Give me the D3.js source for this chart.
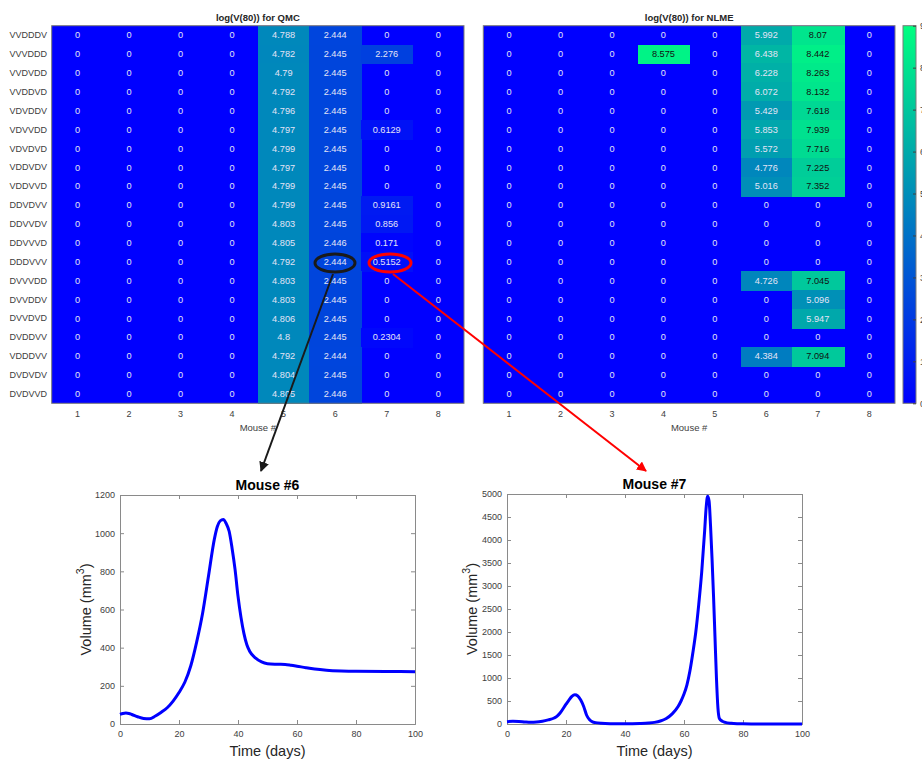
<!DOCTYPE html>
<html>
<head>
<meta charset="utf-8">
<script src="https://d3js.org/d3.v7.min.js"></script>
<style>
body { margin: 0; background: #fff; }
svg { font-family: "Liberation Sans", Arial, sans-serif; }
</style>
</head>
<body>
<svg width="922" height="759"></svg>
<script>
var rowLabels = ["VVDDDV", "VVVDDD", "VVDVDD", "VVDDVD", "VDVDDV", "VDVVDD", "VDVDVD", "VDDVDV", "VDDVVD", "DDVDVV",
  "DDVVDV", "DDVVVD", "DDDVVV", "DVVVDD", "DVVDDV", "DVVDVD", "DVDDVV", "VDDDVV", "DVDVDV", "DVDVVD"];
var mice = [1, 2, 3, 4, 5, 6, 7, 8];

// log(V(80)) for QMC, one array per mouse column
var qmc5 = [4.788, 4.782, 4.79, 4.792, 4.796, 4.797, 4.799, 4.797, 4.799, 4.799, 4.803, 4.805, 4.792, 4.803, 4.803, 4.806, 4.8, 4.792, 4.804, 4.805];
var qmc6 = [2.444, 2.445, 2.445, 2.445, 2.445, 2.445, 2.445, 2.445, 2.445, 2.445, 2.445, 2.446, 2.444, 2.445, 2.445, 2.445, 2.445, 2.444, 2.445, 2.446];
var qmc7 = [0, 2.276, 0, 0, 0, 0.6129, 0, 0, 0, 0.9161, 0.856, 0.171, 0.5152, 0, 0, 0, 0.2304, 0, 0, 0];

// log(V(80)) for NLME
var nlme4 = [0, 8.575, 0, 0, 0, 0, 0, 0, 0, 0, 0, 0, 0, 0, 0, 0, 0, 0, 0, 0];
var nlme6 = [5.992, 6.438, 6.228, 6.072, 5.429, 5.853, 5.572, 4.776, 5.016, 0, 0, 0, 0, 4.726, 0, 0, 0, 4.384, 0, 0];
var nlme7 = [8.07, 8.442, 8.263, 8.132, 7.618, 7.939, 7.716, 7.225, 7.352, 0, 0, 0, 0, 7.045, 5.096, 5.947, 0, 7.094, 0, 0];

var colorTicks = [0, 1, 2, 3, 4, 5, 6, 7, 8, 9];

// simulated volume curves
var mouse6T = [0, 1, 2, 3, 4, 6, 8, 10, 12, 14, 16, 18, 20, 22, 24, 26, 28, 30, 32, 33, 34, 35, 36, 37, 38, 39, 40, 41, 42, 43, 44, 46, 48, 50, 53, 56, 58, 60, 63, 66, 70, 75, 80, 90, 100];
var mouse6V = [50, 55, 57, 55, 50, 38, 29, 27, 42, 62, 85, 120, 165, 220, 305, 430, 580, 775, 970, 1035, 1065, 1072, 1050, 1010, 920, 810, 670, 560, 475, 415, 380, 345, 325, 316, 313, 312, 308, 303, 295, 288, 282, 278, 276, 275, 274];
var mouse7T = [0, 2, 4, 6, 8, 10, 12, 14, 16, 17, 18, 20, 21, 22, 23, 24, 25, 26, 27, 28, 29, 30, 32, 35, 40, 45, 48, 50, 52, 54, 56, 58, 59, 60, 61, 62, 63, 64, 65, 66, 67, 67.5, 68, 68.5, 69, 69.5, 70, 70.5, 71, 71.5, 72, 73, 74, 76, 78, 80, 85, 90, 100];
var mouse7V = [50, 58, 55, 45, 38, 42, 60, 90, 130, 170, 240, 430, 520, 600, 634, 610, 520, 380, 190, 90, 45, 30, 15, 7, 4, 10, 20, 35, 65, 120, 220, 380, 500, 650, 850, 1150, 1550, 2000, 2600, 3300, 4200, 4700, 4950, 4850, 4300, 3600, 2800, 1900, 1000, 350, 120, 60, 35, 15, 6, 3, 1, 0.5, 0.5];

var svg = d3.select("svg");
var color = d3.scaleLinear().domain([0, 9]).range(["#0000ff", "#00ff80"]);
var fmt = d3.format(".4~g");

var hmTop = 25.7, hmBottom = 403.3;
var yRow = d3.scaleBand().domain(rowLabels).range([hmTop, hmBottom]);

function heatmap(x0, x1, title, cols, showRows) {
  var xCol = d3.scaleBand().domain(mice).range([x0, x1]);
  var g = svg.append("g");
  var cells = [];
  rowLabels.forEach(function (r, i) {
    mice.forEach(function (m) {
      var v = cols[m] ? cols[m][i] : 0;
      cells.push({ row: r, col: m, value: v });
    });
  });
  g.append("rect").attr("x", x0).attr("y", hmTop).attr("width", x1 - x0).attr("height", hmBottom - hmTop)
    .attr("fill", color(0));
  g.selectAll("rect.cell").data(cells.filter(function (d) { return d.value > 0; })).enter().append("rect")
    .attr("class", "cell")
    .attr("x", function (d) { return xCol(d.col); })
    .attr("y", function (d) { return yRow(d.row); })
    .attr("width", xCol.bandwidth() + 1)
    .attr("height", yRow.bandwidth() + 1)
    .attr("shape-rendering", "crispEdges")
    .attr("fill", function (d) { return color(d.value); });
  g.selectAll("text.val").data(cells).enter().append("text")
    .attr("class", "val")
    .attr("x", function (d) { return xCol(d.col) + xCol.bandwidth() / 2; })
    .attr("y", function (d) { return yRow(d.row) + yRow.bandwidth() / 2; })
    .attr("dy", "0.35em")
    .attr("text-anchor", "middle")
    .attr("font-size", 9.2)
    .attr("fill", function (d) { return d.value > 6.7 ? "#111" : "#e4e4f6"; })
    .text(function (d) { return fmt(d.value); });
  g.append("rect").attr("x", x0).attr("y", hmTop).attr("width", x1 - x0).attr("height", hmBottom - hmTop)
    .attr("fill", "none").attr("stroke", "#7a7a7a").attr("stroke-width", 1);
  g.append("text").attr("x", (x0 + x1) / 2).attr("y", 20.5).attr("text-anchor", "middle")
    .attr("font-size", 9.5).attr("font-weight", "bold").attr("fill", "#262626").text(title);
  g.selectAll("text.xt").data(mice).enter().append("text")
    .attr("class", "xt")
    .attr("x", function (d) { return xCol(d) + xCol.bandwidth() / 2; })
    .attr("y", 416.5).attr("text-anchor", "middle").attr("font-size", 9).attr("fill", "#404040")
    .text(function (d) { return d; });
  g.append("text").attr("x", (x0 + x1) / 2).attr("y", 430.5).attr("text-anchor", "middle")
    .attr("font-size", 9.5).attr("fill", "#404040").text("Mouse #");
  if (showRows) {
    g.selectAll("text.rl").data(rowLabels).enter().append("text")
      .attr("class", "rl")
      .attr("x", 47).attr("y", function (d) { return yRow(d) + yRow.bandwidth() / 2; })
      .attr("dy", "0.35em").attr("text-anchor", "end").attr("font-size", 9).attr("fill", "#404040")
      .text(function (d) { return d; });
  }
}

heatmap(51.7, 464, "log(V(80)) for QMC", { 5: qmc5, 6: qmc6, 7: qmc7 }, true);
heatmap(483.3, 895, "log(V(80)) for NLME", { 4: nlme4, 6: nlme6, 7: nlme7 }, false);

// colorbar
var defs = svg.append("defs");
var grad = defs.append("linearGradient").attr("id", "winter").attr("x1", 0).attr("y1", 1).attr("x2", 0).attr("y2", 0);
grad.append("stop").attr("offset", "0%").attr("stop-color", color(0));
grad.append("stop").attr("offset", "100%").attr("stop-color", color(9));
var cbY = d3.scaleLinear().domain([0, 9]).range([hmBottom, hmTop]);
svg.append("rect").attr("x", 903).attr("y", hmTop).attr("width", 13).attr("height", hmBottom - hmTop)
  .attr("fill", "url(#winter)").attr("stroke", "#7a7a7a");
var cbAxis = svg.append("g").attr("transform", "translate(916,0)")
  .call(d3.axisRight(cbY).tickValues(colorTicks).tickSize(-3).tickPadding(4).tickFormat(d3.format("d")));
cbAxis.select(".domain").remove();
cbAxis.selectAll("line").attr("stroke", "#404040");
cbAxis.selectAll("text").attr("font-size", 9).attr("fill", "#404040");

// line plots
function linePlot(x0, x1, y0, y1, title, tArr, vArr, yMax, yStep, ylabX) {
  var x = d3.scaleLinear().domain([0, 100]).range([x0, x1]);
  var y = d3.scaleLinear().domain([0, yMax]).range([y1, y0]);
  var g = svg.append("g");
  var yt = d3.range(0, yMax + 1, yStep);
  var xt = d3.range(0, 101, 20);
  var ax;
  ax = g.append("g").attr("transform", "translate(0," + y1 + ")")
    .call(d3.axisBottom(x).tickValues(xt).tickSize(-4).tickPadding(7).tickFormat(d3.format("d")));
  ax.selectAll("text").attr("font-size", 9);
  g.append("g").attr("transform", "translate(0," + y0 + ")")
    .call(d3.axisTop(x).tickValues(xt).tickSize(-4).tickFormat(""));
  ax = g.append("g").attr("transform", "translate(" + x0 + ",0)")
    .call(d3.axisLeft(y).tickValues(yt).tickSize(-4).tickPadding(5).tickFormat(d3.format("d")));
  ax.selectAll("text").attr("font-size", 9);
  g.append("g").attr("transform", "translate(" + x1 + ",0)")
    .call(d3.axisRight(y).tickValues(yt).tickSize(-4).tickFormat(""));
  g.selectAll(".domain").attr("stroke", "#8a8a8a");
  g.selectAll(".tick line").attr("stroke", "#8a8a8a");
  g.selectAll(".tick text").attr("fill", "#404040").attr("font-family", "Liberation Sans, Arial, sans-serif");

  var pts = tArr.map(function (t, i) { return [t, vArr[i]]; });
  var line = d3.line().x(function (d) { return x(d[0]); }).y(function (d) { return y(d[1]); })
    .curve(d3.curveMonotoneX);
  g.append("path").datum(pts).attr("d", line).attr("fill", "none")
    .attr("stroke", "#0000ff").attr("stroke-width", 3).attr("stroke-linejoin", "round");

  g.append("text").attr("x", (x0 + x1) / 2).attr("y", y0 - 5).attr("text-anchor", "middle")
    .attr("font-size", 14).attr("font-weight", "bold").attr("fill", "#000").text(title);
  g.append("text").attr("x", (x0 + x1) / 2).attr("y", 756).attr("text-anchor", "middle")
    .attr("font-size", 14.5).attr("fill", "#262626").text("Time (days)");
  var yl = g.append("text").attr("transform", "translate(" + ylabX + "," + ((y0 + y1) / 2) + ") rotate(-90)")
    .attr("text-anchor", "middle").attr("font-size", 14.5).attr("fill", "#262626");
  yl.append("tspan").text("Volume (mm");
  yl.append("tspan").attr("dy", -7).attr("font-size", 10.5).text("3");
  yl.append("tspan").attr("dy", 7).text(")");
}

linePlot(120, 415, 495, 724, "Mouse #6", mouse6T, mouse6V, 1200, 200, 91);
linePlot(507, 802, 494, 724, "Mouse #7", mouse7T, mouse7V, 5000, 500, 477);

// annotations
defs.append("marker").attr("id", "ahk").attr("viewBox", "0 0 10 10").attr("refX", 9).attr("refY", 5)
  .attr("markerWidth", 5).attr("markerHeight", 5).attr("orient", "auto")
  .append("path").attr("d", "M0,0L10,5L0,10z").attr("fill", "#1a1a1a");
defs.append("marker").attr("id", "ahr").attr("viewBox", "0 0 10 10").attr("refX", 9).attr("refY", 5)
  .attr("markerWidth", 5).attr("markerHeight", 5).attr("orient", "auto")
  .append("path").attr("d", "M0,0L10,5L0,10z").attr("fill", "#ff0000");

svg.append("ellipse").attr("cx", 335).attr("cy", 263).attr("rx", 20).attr("ry", 9)
  .attr("fill", "none").attr("stroke", "#1a1a1a").attr("stroke-width", 3);
svg.append("ellipse").attr("cx", 390).attr("cy", 263).attr("rx", 21).attr("ry", 9)
  .attr("fill", "none").attr("stroke", "#ff0000").attr("stroke-width", 3);
svg.append("line").attr("x1", 333).attr("y1", 274).attr("x2", 261).attr("y2", 471)
  .attr("stroke", "#1a1a1a").attr("stroke-width", 2).attr("marker-end", "url(#ahk)");
svg.append("line").attr("x1", 393).attr("y1", 274).attr("x2", 646).attr("y2", 471)
  .attr("stroke", "#ff0000").attr("stroke-width", 2).attr("marker-end", "url(#ahr)");
</script>
</body>
</html>
